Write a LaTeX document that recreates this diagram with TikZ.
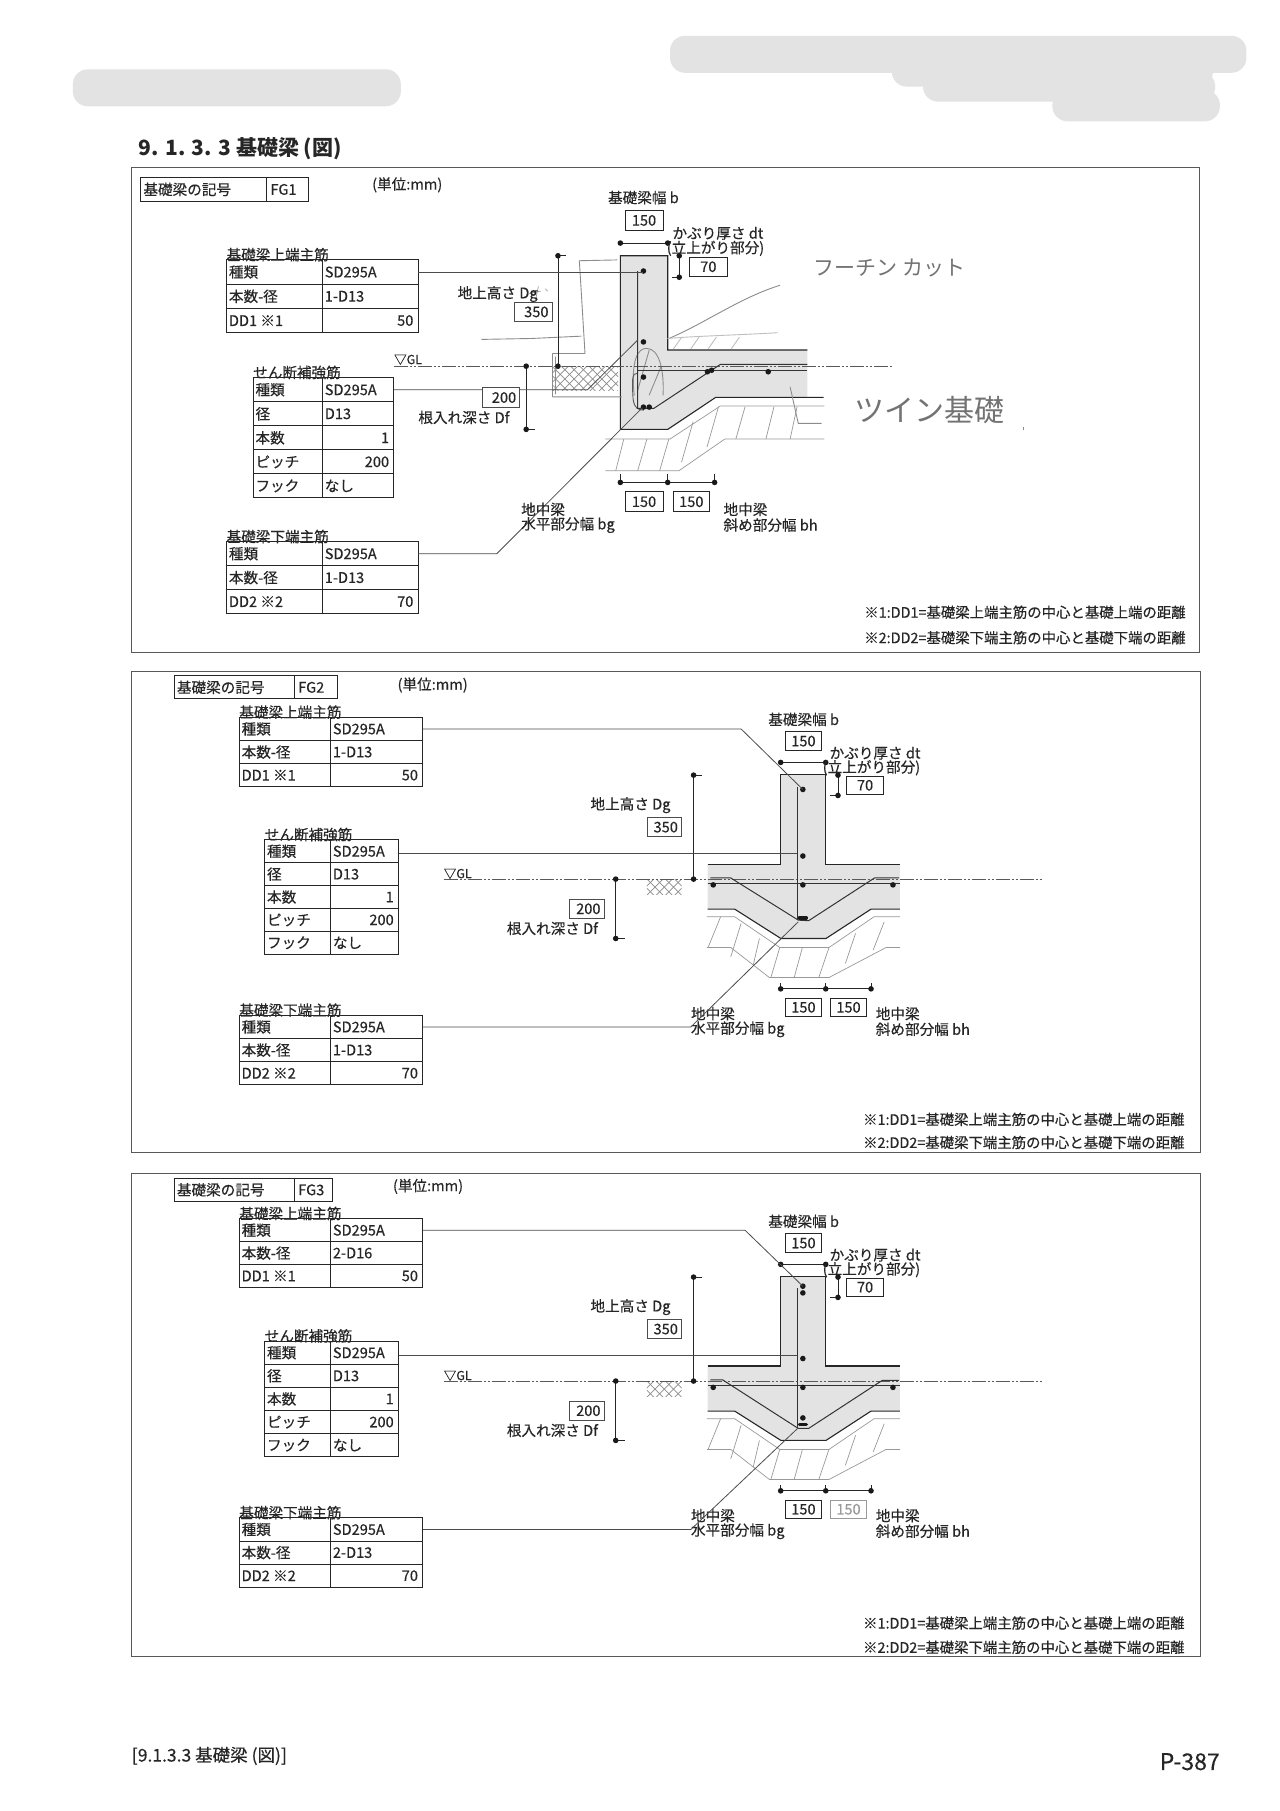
\documentclass[tikz,border=0pt]{standalone}
\usepackage{fontspec}
\setmainfont{Noto Sans CJK JP}[FakeBold=0.35]
\newfontfamily\handfont{Noto Sans CJK JP}
\newfontfamily\titlefont{Noto Sans CJK JP}
\newcounter{nn}
\newcommand{\nd}{\stepcounter{nn}\node}
\tikzset{
  lab/.style={inner sep=0pt,font=\fontsize{14.6}{16}\selectfont,text=black!85},
  note/.style={lab,anchor=west,font=\fontsize{14.4}{16}\selectfont},
  gllab/.style={lab,anchor=west,font=\fontsize{12.5}{14}\selectfont},
  tline/.style={draw=black!85,line width=0.9pt},
  vbox/.style={draw=black!70,line width=0.8pt,fill=white},
  frame/.style={draw=black!65,line width=1pt},
  beamline/.style={draw=black!85,line width=1.1pt},
  rebar/.style={draw=black!80,line width=1pt},
  leader/.style={draw=black!70,line width=0.8pt},
  dim/.style={draw=black!85,line width=0.9pt},
  glline/.style={draw=black!65,line width=0.9pt,dash pattern=on 14pt off 2pt on 2pt off 2pt on 2pt off 2pt},
  gravel/.style={draw=black!40,line width=0.7pt},
  hand/.style={draw=black!45,line width=0.9pt,line cap=round,line join=round},
  handtext/.style={inner sep=0pt,text=black!55,font=\handfont\fontsize{30}{32}\selectfont},
  blob/.style={fill=black!11,draw=none,rounded corners=15pt},
  dot/.style={fill=black!90,draw=none}
}
% text at left / right / centre
\newcommand{\tl}[3]{\nd[lab,anchor=west] (t\arabic{nn}) at (#1,#2) {#3};}
\newcommand{\tc}[3]{\nd[lab,anchor=center] (t\arabic{nn}) at (#1,#2) {#3};}
\newcommand{\pt}[2]{\fill[dot] (#1,#2) circle[radius=2.8pt];}
% coarse cross hatching: x0 y0 x1 y1
\newcommand{\xhatch}[4]{\begin{scope}
  \clip (#1,#2) rectangle (#3,#4);
  \foreach \k in {-40,-32,...,80}{\draw[black!45,line width=.7pt] (#1+\k,#2)--(#1+\k+30,#2+30) (#1+\k+30,#2)--(#1+\k,#2+30);}
  \end{scope}}
% value box x0 x1 y0 y1 text
\newcommand{\vb}[6][black!85]{\draw[vbox] (#2,#4) rectangle (#3,#5);
  \nd[lab,text=#1,anchor=east] (t\arabic{nn}) at (#3-3,{(#4+#5)/2}) {#6};}
\newcommand{\vbc}[6][black!85]{\draw[vbox,draw=#1] (#2,#4) rectangle (#3,#5);
  \nd[lab,text=#1,anchor=center] (t\arabic{nn}) at ({(#2+#3)/2},{(#4+#5)/2}) {#6};}
% table: name x0 xd x1 y0 rowh nrows title
\newcommand{\gridtable}[8]{%
  \def\tA{#2}\def\tB{#3}\def\tC{#4}\def\tY{#5}\def\tH{#6}%
  \pgfmathsetmacro{\tE}{#5+#6*#7}%
  \draw[tline] (#2,#5) rectangle (#4,\tE);
  \draw[tline] (#3,#5) -- (#3,\tE);
  \foreach \i in {1,...,#7}{\pgfmathsetmacro{\yy}{#5+#6*\i}\draw[tline] (#2,\yy) -- (#4,\yy);}
  \pgfmathsetmacro{\yc}{#5+#6*0.5}%
  \coordinate (#1) at (#4,\yc);
  \nd[lab,anchor=south west] (t\arabic{nn}) at (#2,#5+1.5) {#8};
}
\newcommand{\rowL}[3]{\pgfmathsetmacro{\yc}{\tY+\tH*(#1-0.5)}%
  \nd[lab,anchor=west] (t\arabic{nn}) at (\tA+2,\yc) {#2};
  \nd[lab,anchor=west] (t\arabic{nn}) at (\tB+2,\yc) {#3};}
\newcommand{\rowR}[3]{\pgfmathsetmacro{\yc}{\tY+\tH*(#1-0.5)}%
  \nd[lab,anchor=west] (t\arabic{nn}) at (\tA+2,\yc) {#2};
  \nd[lab,anchor=east] (t\arabic{nn}) at (\tC-4,\yc) {#3};}
\newcommand{\mainrows}[3]{\rowL{1}{種類}{SD295A}\rowL{2}{本数-径}{#1}\rowR{3}{#2}{#3}}
\newcommand{\shearrows}{\rowL{1}{種類}{SD295A}\rowL{2}{径}{D13}\rowR{3}{本数}{1}\rowR{4}{ピッチ}{200}\rowL{5}{フック}{なし}}
\newcommand{\symtable}[5]{\draw[tline] (#1,#3) rectangle (#2,#3+20); \draw[tline] (#5,#3) -- (#5,#3+20);
  \tl{#1+2}{#3+10}{基礎梁の記号}\tl{#5+3}{#3+10}{#4}}
\newcommand{\notes}[3]{\nd[note] (t\arabic{nn}) at (#1,#2) {※1:DD1=基礎梁上端主筋の中心と基礎上端の距離};
  \nd[note] (t\arabic{nn}) at (#1,#3) {※2:DD2=基礎梁下端主筋の中心と基礎下端の距離};}
% common lower drawing of FG2 / FG3, in FG2 coordinates
\newcommand{\centerbeam}[1]{%
  \fill[black!11] (675.8,670.7)--(714.8,670.7)--(714.8,748)--(779,748)--(779,787)--(754,787)--(715,812.4)--(676,812.4)--(636,787)--(612.5,787)--(612.5,748)--(675.8,748)--cycle;
  \draw[beamline] (612.5,748)--(675.8,748)--(675.8,670.7)--(714.8,670.7)--(714.8,748)--(779,748);
  \draw[beamline] (612.5,787)--(636,787)--(676,812.4)--(715,812.4)--(754,787)--(779,787);
  % gravel
  \draw[gravel] (612,793.6)--(636,793.6)--(675,820.2)--(717.6,820.2)--(756.6,793.6)--(779,793.6);
  \draw[gravel] (612,820.2)--(632.6,820.2)--(666,846.2)--(717.6,846.2)--(767,820.2)--(779,820.2);
  \foreach \a/\b/\c/\d in {623.8/793.6/613/820,641.5/799.4/632.6/828.3,657.4/812.4/652/835.5,675/820.2/667.3/846.2,694.6/820.2/687.5/846.2,717.6/820.2/708.8/846.2,740.6/808/731.8/834,765.4/798/755.8/822.5}{\draw[gravel] (\a,\b)--(\c,\d);}
  % ground
  \xhatch{560}{761}{590}{774}
  \draw[glline] (384,761)--(901.7,761);
  \draw[rebar] (612.5,764.5)--(779,764.5);
  % dimensions
  \draw[dim] (675.8,660)--(714.8,660); \pt{675.8}{660}\pt{714.8}{660}
  \draw[dim] (725.4,671)--(725.4,688.6)--(718.6,688.6); \pt{725.4}{671}\pt{725.4}{688.6}
  \draw[dim] (608,671)--(600.4,671)--(600.4,761); \pt{600.4}{671}\pt{600.4}{761}
  \draw[dim] (533,761)--(533,812.4)--(541,812.4); \pt{533}{761}\pt{533}{812.4}
  \draw[dim] (675.8,856)--(754,856);
  \foreach \xx in {675.8,714.8,754}{\draw[dim,line width=.6pt] (\xx,851)--(\xx,856); \pt{\xx}{856}}
  % labels
  \tc{695.7}{622.8}{基礎梁幅 b}
  \vbc{680}{711}{633.5}{649.6}{150}
  \tl{718}{652}{かぶり厚さ dt}
  \tl{712}{664.6}{(立上がり部分)}
  \vbc{733}{764.7}{671.8}{687.7}{70}
  \tl{511}{697}{地上高さ Dg}
  \vb{560}{590}{708}{724}{350}
  \vb{492.5}{523}{778.6}{794.8}{200}
  \tl{438.6}{803.7}{根入れ深さ Df}
  \vbc{680}{711}{864}{880}{150}
  \vbc[#1]{719}{750}{864}{880}{150}
  \tl{598}{877.5}{地中梁}
  \tl{598}{891}{水平部分幅 bg}
  \tl{758}{877.5}{地中梁}
  \tl{758}{891}{斜め部分幅 bh}
  \nd[gllab] (t\arabic{nn}) at (384,756.5) {▽GL};
}
\begin{document}
\begin{tikzpicture}[x=1.1552pt,y=-1.1552pt]
\useasboundingbox (0,0) rectangle (1108,1567.7);
\fill[white] (0,0) rectangle (1108,1567.7);
% redactions
\fill[blob] (63,60) rectangle (347,92);
\fill[blob] (580,31) rectangle (1079,63);
\fill[blob] (772,45) rectangle (1050,75);
\fill[blob] (799,62) rectangle (1052,88);
\fill[blob] (911,78) rectangle (1056,105);
% title and footer
\nd[inner sep=0pt,anchor=west,font=\titlefont\bfseries\fontsize{21}{23}\selectfont,text=black!85] (t\arabic{nn}) at (120,129) {9. 1. 3. 3 基礎梁 (図)};
\nd[inner sep=0pt,anchor=west,font=\fontsize{17.5}{19}\selectfont,text=black!85] (t\arabic{nn}) at (114,1520) {[9.1.3.3 基礎梁 (図)]};
\nd[inner sep=0pt,anchor=east,font=\fontsize{23}{25}\selectfont,text=black!85] (t\arabic{nn}) at (1056,1525) {P-387};
% frames
\draw[frame] (114,145) rectangle (1038,565);
\draw[frame] (114,581) rectangle (1039,998);
\draw[frame] (114,1016) rectangle (1039,1434);

%%%%%%%%%%%%%% FG1
\symtable{122}{267}{154}{FG1}{231}
\tl{322}{160}{(単位:mm)}
\gridtable{a1}{196}{279}{362}{225}{21}{3}{基礎梁上端主筋}\mainrows{1-D13}{DD1 ※1}{50}
\gridtable{a2}{219}{279}{341}{327}{20.8}{5}{せん断補強筋}\shearrows
\gridtable{a3}{196}{279}{362}{469}{20.7}{3}{基礎梁下端主筋}\mainrows{1-D13}{DD2 ※2}{70}
% beam
\fill[black!11] (537,221.4)--(578,221.4)--(578,303)--(699,303)--(699,344)--(619.5,344)--(578,371.7)--(537,371.7)--cycle;
\draw[beamline] (699,303)--(578,303)--(578,221.4)--(537,221.4)--(537,371.7)--(578,371.7)--(619.5,344)--(713,344);
% gravel
\draw[gravel] (524,380)--(580,380)--(623.5,351.5)--(713.6,351.5);
\draw[gravel] (524,407.5)--(587.7,407.5)--(627.5,380)--(713.6,380);
\foreach \a/\b/\c/\d in {540/380/533/407.5,560/380/552/407.5,579/380/571/407.5,600/365/590/400,622/352/612/387,645/352/637/380,670/352/663/380,690/352/684/380}{\draw[gravel] (\a,\b)--(\c,\d);}
% handwriting sketch
\xhatch{478}{317}{535}{338}
\draw[hand] (534,225)--(501.5,225.7)--(503,250)--(506.4,306)--(478.3,306)--(478.3,343.5)--(538,343.5);
\draw[hand] (417,293.8)--(460,293)--(503,291);
\draw[hand] (480.5,309)--(480.5,341);
\draw[hand] (549,342) .. controls (546,312) and (552,301) .. (560,301.6) .. controls (570,302) and (575,318) .. (574,342);
\draw[hand] (562,303) -- (552,338) (572,318) -- (562,342);
\draw[hand,draw=black!65] (552,323) .. controls (547,323) and (547,328) .. (548,345) .. controls (549,354) and (553,355) .. (557,355);
\draw[hand] (579,293) .. controls (610,280) and (640,258) .. (675,247);
\draw[hand,black!25] (578,293) .. controls (600,291) and (640,290) .. (673,288);
\foreach \a in {590,605,620,640}{\draw[hand,black!25] (\a,292)--(\a-7,302);}
\draw[hand] (684,335)--(691,366.5)--(711,366.5);
\draw[hand,line width=.6pt] (458,254)--(468,252) (466,248)--(464,258) (472,250)--(474,252);
\nd[handtext,font=\handfont\fontsize{21}{23}\selectfont] (t\arabic{nn}) at (770,232) {フーチン カット};
\nd[handtext] (t\arabic{nn}) at (805,355) {ツイン基礎};
\draw[hand] (886,370)--(886,372);
% GL and rebar
\draw[glline] (341,317.5)--(773,317.5);
\draw[rebar] (552,320.5)--(699,320.5);
\draw[rebar] (699,315.5)--(623.5,315.5)--(566,353.5)--(552,353.5)--(552,234.6);
% dims
\draw[dim] (537,210.4)--(578,210.4); \pt{537}{210.4}\pt{578}{210.4}
\draw[dim] (588,221.4)--(588,240)--(582,240); \pt{588}{221.4}\pt{588}{240}
\draw[dim] (490,221.4)--(483,221.4)--(483,317); \pt{483}{221.4}\pt{483}{317}
\draw[dim] (455.5,317)--(455.5,371.7)--(463,371.7); \pt{455.5}{317}\pt{455.5}{371.7}
\draw[dim] (537,417.6)--(618.6,417.6);
\foreach \xx in {537,578,618.6}{\draw[dim,line width=.6pt] (\xx,410)--(\xx,417.6); \pt{\xx}{417.6}}
% rebar dots
\foreach \a/\b in {557/234.6,557/296,557/326.4,557/352.4,562/352.4,612.4/321.8,616/320.5,665/321.8}{\pt{\a}{\b}}
% leaders
\draw[leader] (a1) -- (552,235.5) -- (557,235.5);
\draw[leader] (a2) -- (508.5,337.4) -- (552,294.4);
\draw[leader] (a3) -- (430,479.4) -- (556,353);
% labels
\tc{557}{171}{基礎梁幅 b}
\vbc{541}{574}{182.4}{199.2}{150}
\tl{582}{202}{かぶり厚さ dt}
\tl{577}{215}{(立上がり部分)}
\vbc{597}{629.4}{222.8}{239}{70}
\tl{396}{254.5}{地上高さ Dg}
\vb{445}{478}{262}{278}{350}
\vb{417.7}{450}{335.7}{352.6}{200}
\tl{362}{361.4}{根入れ深さ Df}
\vbc{541}{574}{425.7}{443}{150}
\vbc{582.5}{614.4}{425.7}{443}{150}
\tl{451}{441}{地中梁}
\tl{451}{454.5}{水平部分幅 bg}
\tl{626.2}{441}{地中梁}
\tl{626.2}{454.5}{斜め部分幅 bh}
\nd[gllab] (t\arabic{nn}) at (341,311.5) {▽GL};
\notes{748}{530}{552}

%%%%%%%%%%%%%% FG2
\symtable{151}{292}{585}{FG2}{255}
\tl{344}{593}{(単位:mm)}
\gridtable{b1}{207}{286}{366}{621}{20}{3}{基礎梁上端主筋}\mainrows{1-D13}{DD1 ※1}{50}
\gridtable{b2}{229}{286}{345}{727}{19.8}{5}{せん断補強筋}\shearrows
\gridtable{b3}{207}{286}{366}{879}{20}{3}{基礎梁下端主筋}\mainrows{1-D13}{DD2 ※2}{70}
\centerbeam{black!85}
\draw[rebar] (690,681)--(690,796.5);
\draw[rebar] (615,760)--(632.6,760)--(691,796.5)--(700,797)--(757,760)--(778,760);
\foreach \a/\b in {695/683.4,695/741,617.4/766,695/766,773/766}{\pt{\a}{\b}}
\draw[line width=3.5pt,black!90,line cap=round] (692,794.5)--(698,794.5);
\coordinate (b2e) at (345,738.8);
\draw[leader] (b1) -- (641.5,631) -- (695,683.4);
\draw[leader] (b2e) -- (690,738.8);
\draw[leader] (b3) -- (598,889) -- (691,798);
\notes{747}{969}{989}

%%%%%%%%%%%%%% FG3
\symtable{151}{288}{1020}{FG3}{255}
\tl{340}{1027}{(単位:mm)}
\gridtable{c1}{207}{286}{366}{1055}{19.8}{3}{基礎梁上端主筋}\mainrows{2-D16}{DD1 ※1}{50}
\gridtable{c2}{229}{286}{345}{1161}{20}{5}{せん断補強筋}\shearrows
\gridtable{c3}{207}{286}{366}{1314}{20}{3}{基礎梁下端主筋}\mainrows{2-D13}{DD2 ※2}{70}
\begin{scope}[shift={(0,434.5)}]
\centerbeam{black!40}
\end{scope}
\draw[rebar] (690,1115)--(690,1236.5);
\draw[rebar] (615,1194.5)--(625.6,1194.5)--(691,1236.5)--(700,1236.5)--(763.6,1195)--(778,1195);
\foreach \a/\b in {695/1113.4,695/1119.2,695/1176,617.4/1201,695/1201,773/1201,695/1227.4}{\pt{\a}{\b}}
\draw[line width=3.5pt,black!90,line cap=round] (692,1233)--(698,1233);
\coordinate (c2e) at (345,1173);
\draw[leader] (c1) -- (645,1065) -- (695,1113.4);
\draw[leader] (c2e) -- (690,1173);
\draw[leader] (c3) -- (598,1324) -- (691,1236);
\notes{747}{1405}{1426}
\end{tikzpicture}
\end{document}
